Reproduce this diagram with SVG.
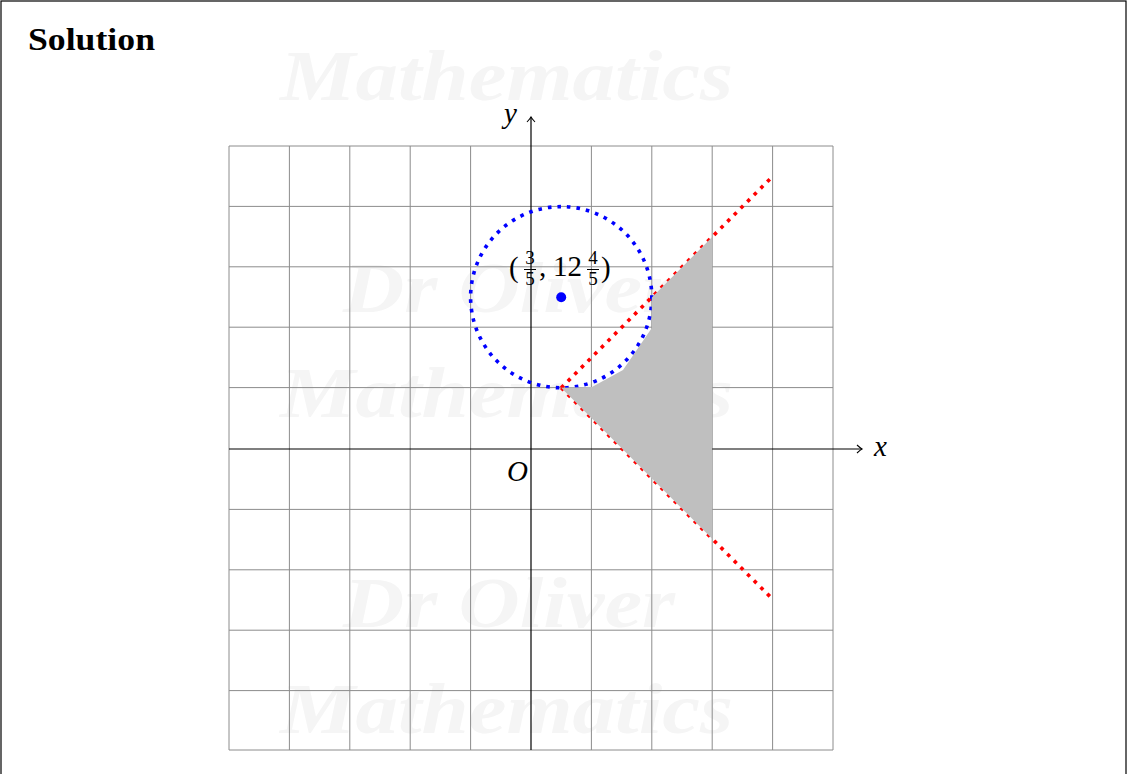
<svg xmlns="http://www.w3.org/2000/svg" width="1127" height="774" viewBox="0 0 1127 774">
<defs>
<style>
.wm{font-family:"Liberation Serif","DejaVu Serif",serif;font-style:italic;font-weight:bold;fill:#f5f5f5;}
.grid{stroke:#8c8c8c;stroke-width:1;fill:none;}
.axis{stroke:#000;stroke-width:1.2;fill:none;}
.math{font-family:"Liberation Serif","DejaVu Serif",serif;font-style:italic;font-size:29px;fill:#000;}
.num{font-family:"Liberation Serif","DejaVu Serif",serif;fill:#000;}
.red{stroke:#ff0000;stroke-width:3.6;stroke-dasharray:3.6 5.8;fill:none;}
</style>
<marker id="arr" viewBox="-6 -5 8 10" markerWidth="8" markerHeight="10" refX="0" refY="0" orient="auto" markerUnits="userSpaceOnUse">
<path d="M -5 -4 Q -1.5 -0.8 0 0 Q -1.5 0.8 -5 4" fill="none" stroke="#000" stroke-width="1.1"/>
</marker>
</defs>
<rect x="0" y="0" width="1127" height="774" fill="#fff"/>
<rect x="1" y="1" width="1125" height="800" fill="none" stroke="#000" stroke-width="1.2"/>
<g id="watermark">
<text class="wm" x="280" y="100" font-size="72" textLength="453" lengthAdjust="spacingAndGlyphs">Mathematics</text>
<text class="wm" x="343" y="312" font-size="72" textLength="332" lengthAdjust="spacingAndGlyphs">Dr Oliver</text>
<text class="wm" x="280" y="417" font-size="72" textLength="453" lengthAdjust="spacingAndGlyphs">Mathematics</text>
<text class="wm" x="343" y="627" font-size="72" textLength="332" lengthAdjust="spacingAndGlyphs">Dr Oliver</text>
<text class="wm" x="280" y="733" font-size="72" textLength="453" lengthAdjust="spacingAndGlyphs">Mathematics</text>
</g>
<text id="title" x="28" y="50" font-family="Liberation Serif, DejaVu Serif, serif" font-weight="bold" font-size="31" textLength="127" lengthAdjust="spacingAndGlyphs">Solution</text>
<g id="grid" class="grid">
<path d="M229 146V750M289.4 146V750M349.8 146V750M410.2 146V750M470.6 146V750M591.4 146V750M651.8 146V750M712.2 146V750M772.6 146V750M833 146V750"/>
<path d="M229 146H833M229 206.4H833M229 266.8H833M229 327.2H833M229 387.6H833M229 509.4H833M229 569.8H833M229 630.2H833M229 690.6H833M229 750H833"/>
</g>
<g id="axes">
<line class="axis" x1="229" y1="449" x2="862" y2="449" marker-end="url(#arr)"/>
<line class="axis" x1="531" y1="750" x2="531" y2="117" marker-end="url(#arr)"/>
<text class="math" x="874" y="456">x</text>
<text class="math" x="504" y="123">y</text>
<text class="math" x="507" y="481">O</text>
</g>
<g id="circle">
<circle cx="561.2" cy="297.2" r="90.6" fill="none" stroke="#0000ff" stroke-width="3.6" stroke-dasharray="3.6 6"/>
</g>
<g id="connectors">
<line class="red" x1="561.2" y1="387.8" x2="772.6" y2="176.4"/>
<line class="red" x1="561.2" y1="387.8" x2="772.6" y2="599.2"/>
</g>
<g id="region">
<polygon points="561.2,387.8 592,387 623,370 651.8,328 651.8,297.4 712.2,237 712.2,538.8" fill="#bfbfbf"/>
</g>
<g id="centre">
<circle cx="561.2" cy="297.2" r="5" fill="#0000ff"/>
<text class="num" x="509" y="277" font-size="29">(</text>
<text class="num" x="530" y="264" font-size="19" text-anchor="middle">3</text>
<line x1="524" y1="269.5" x2="536" y2="269.5" stroke="#000" stroke-width="1"/>
<text class="num" x="530" y="285" font-size="19" text-anchor="middle">5</text>
<text class="num" x="539" y="276" font-size="29">,</text>
<text class="num" x="553" y="276" font-size="29">12</text>
<text class="num" x="593" y="264" font-size="19" text-anchor="middle">4</text>
<line x1="587" y1="269.5" x2="599" y2="269.5" stroke="#000" stroke-width="1"/>
<text class="num" x="593" y="285" font-size="19" text-anchor="middle">5</text>
<text class="num" x="601" y="277" font-size="29">)</text>
</g>
</svg>
